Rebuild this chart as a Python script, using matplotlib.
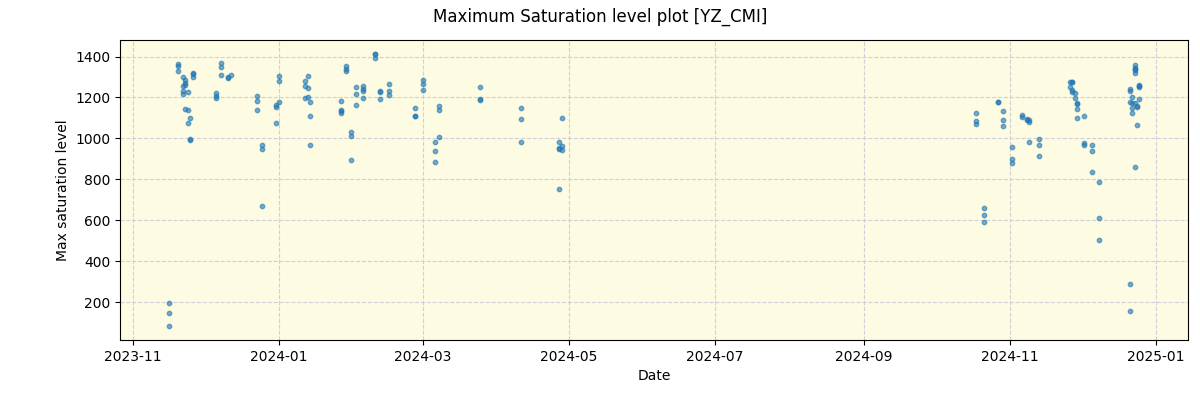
import pandas as pd
import matplotlib
matplotlib.use("Agg")
from matplotlib import pyplot as plt

# date of each measurement and its max saturation level
dates = [
    "2023-11-16", "2023-11-16", "2023-11-16",
    "2023-11-20", "2023-11-20", "2023-11-20",
    "2023-11-22", "2023-11-22", "2023-11-22", "2023-11-22",
    "2023-11-23", "2023-11-23", "2023-11-23", "2023-11-23",
    "2023-11-24", "2023-11-24", "2023-11-24",
    "2023-11-25", "2023-11-25", "2023-11-25",
    "2023-11-26", "2023-11-26", "2023-11-26",
    "2023-12-06", "2023-12-06", "2023-12-06",
    "2023-12-08", "2023-12-08", "2023-12-08",
    "2023-12-11", "2023-12-11", "2023-12-12",
    "2023-12-23", "2023-12-23", "2023-12-23",
    "2023-12-25", "2023-12-25", "2023-12-25",
    "2023-12-31", "2023-12-31", "2023-12-31",
    "2024-01-01", "2024-01-01", "2024-01-01",
    "2024-01-12", "2024-01-12", "2024-01-12",
    "2024-01-13", "2024-01-13", "2024-01-13",
    "2024-01-14", "2024-01-14", "2024-01-14",
    "2024-01-27", "2024-01-27", "2024-01-27", "2024-01-27",
    "2024-01-29", "2024-01-29", "2024-01-29",
    "2024-01-31", "2024-01-31", "2024-01-31",
    "2024-02-02", "2024-02-02", "2024-02-02",
    "2024-02-05", "2024-02-05", "2024-02-05", "2024-02-05",
    "2024-02-10", "2024-02-10", "2024-02-10",
    "2024-02-12", "2024-02-12", "2024-02-12",
    "2024-02-16", "2024-02-16", "2024-02-16",
    "2024-02-27", "2024-02-27", "2024-02-27",
    "2024-03-01", "2024-03-01", "2024-03-01",
    "2024-03-06", "2024-03-06", "2024-03-06",
    "2024-03-08", "2024-03-08", "2024-03-08",
    "2024-03-25", "2024-03-25", "2024-03-25",
    "2024-04-11", "2024-04-11", "2024-04-11",
    "2024-04-27", "2024-04-27", "2024-04-27", "2024-04-27",
    "2024-04-28", "2024-04-28", "2024-04-28",
    "2024-10-18", "2024-10-18", "2024-10-18",
    "2024-10-21", "2024-10-21", "2024-10-21",
    "2024-10-27", "2024-10-27",
    "2024-10-29", "2024-10-29", "2024-10-29",
    "2024-11-02", "2024-11-02", "2024-11-02",
    "2024-11-06", "2024-11-06",
    "2024-11-08", "2024-11-08", "2024-11-09", "2024-11-09", "2024-11-09",
    "2024-11-13", "2024-11-13", "2024-11-13",
    "2024-11-26", "2024-11-26", "2024-11-27", "2024-11-27",
    "2024-11-27", "2024-11-27",
    "2024-11-28", "2024-11-28",
    "2024-11-29", "2024-11-29", "2024-11-29", "2024-11-29",
    "2024-12-02", "2024-12-02", "2024-12-02",
    "2024-12-05", "2024-12-05", "2024-12-05",
    "2024-12-08", "2024-12-08", "2024-12-08",
    "2024-12-21", "2024-12-21", "2024-12-21", "2024-12-21", "2024-12-21",
    "2024-12-22", "2024-12-22", "2024-12-22", "2024-12-22",
    "2024-12-23", "2024-12-23", "2024-12-23", "2024-12-23", "2024-12-23",
    "2024-12-23", "2024-12-23",
    "2024-12-24", "2024-12-24", "2024-12-24",
    "2024-12-25", "2024-12-25", "2024-12-25", "2024-12-25",
]
levels = [
    194, 145, 82,
    1365, 1356, 1330,
    1300, 1256, 1217, 1230,
    1284, 1271, 1261, 1144,
    1227, 1139, 1075,
    1100, 997, 993,
    1320, 1313, 1300,
    1222, 1209, 1197,
    1368, 1349, 1310,
    1298, 1295, 1311,
    1205, 1183, 1139,
    967, 948, 669,
    1161, 1152, 1075,
    1178, 1307, 1281,
    1281, 1256, 1197,
    1307, 1247, 1202,
    1178, 1109, 967,
    1183, 1139, 1132, 1124,
    1353, 1340, 1328,
    1031, 1010, 894,
    1251, 1217, 1163,
    1256, 1241, 1231, 1197,
    1414, 1412, 1393,
    1231, 1227, 1192,
    1266, 1231, 1212,
    1149, 1109, 1107,
    1286, 1266, 1237,
    982, 938, 884,
    1156, 1139, 1006,
    1251, 1189, 1192,
    1149, 1095, 982,
    982, 953, 752, 948,
    1100, 964, 943,
    1124, 1085, 1070,
    659, 625, 590,
    1178, 1176,
    1134, 1090, 1060,
    958, 899, 879,
    1114, 1104,
    1095, 1090, 1080, 1088, 982,
    997, 967, 914,
    1276, 1250, 1276, 1276,
    1235, 1227,
    1222, 1197,
    1173, 1168, 1144, 1100,
    1109, 977, 966,
    967, 938, 835,
    786, 610, 502,
    1241, 1232, 1178, 287, 159,
    1202, 1149, 1124, 1173,
    1359, 1344, 1339, 1335, 1320, 1173, 860,
    1158, 1153, 1065,
    1261, 1255, 1250, 1192,
]

df = pd.DataFrame({"date": pd.to_datetime(dates), "level": levels})

fig, ax = plt.subplots(figsize=(12, 4), dpi=100)
ax.set_facecolor("#fdfbe1")
ax.scatter(df["date"], df["level"], s=10, alpha=0.6, color="tab:blue", zorder=3)
ax.grid(True, linestyle="--", color="#cfd0d8", zorder=0)
ax.set_xlabel("Date")
ax.set_ylabel("Max saturation level")
fig.suptitle("Maximum Saturation level plot [YZ_CMI]")
fig.subplots_adjust(left=0.1, right=0.99, top=0.9, bottom=0.15)
fig.savefig("out.png")
